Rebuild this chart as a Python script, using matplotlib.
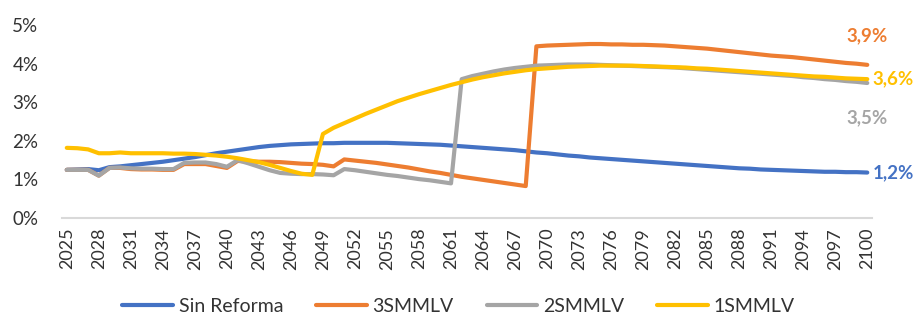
import matplotlib
matplotlib.use("Agg")
import matplotlib.pyplot as plt
from matplotlib.ticker import FuncFormatter

years = list(range(2025, 2101))

sin_reforma = [
    1.25, 1.26, 1.27, 1.24, 1.32, 1.34, 1.37, 1.40, 1.43, 1.46,
    1.50, 1.54, 1.58, 1.63, 1.68, 1.72, 1.76, 1.80, 1.84, 1.87,
    1.89, 1.91, 1.92, 1.93, 1.94, 1.94, 1.95, 1.95, 1.95, 1.95,
    1.95, 1.94, 1.93, 1.92, 1.91, 1.90, 1.88, 1.86, 1.84, 1.82,
    1.80, 1.78, 1.76, 1.73, 1.70, 1.68, 1.65, 1.62, 1.60, 1.57,
    1.55, 1.53, 1.51, 1.49, 1.47, 1.45, 1.43, 1.41, 1.39, 1.37,
    1.35, 1.33, 1.31, 1.29, 1.28, 1.26, 1.25, 1.24, 1.23, 1.22,
    1.21, 1.20, 1.20, 1.19, 1.19, 1.18,
]

smmlv3 = [
    1.25, 1.25, 1.25, 1.10, 1.30, 1.30, 1.27, 1.26, 1.26, 1.25,
    1.25, 1.40, 1.40, 1.40, 1.35, 1.30, 1.48, 1.47, 1.46, 1.46,
    1.45, 1.43, 1.41, 1.40, 1.38, 1.34, 1.52, 1.49, 1.46, 1.43,
    1.39, 1.35, 1.31, 1.26, 1.21, 1.17, 1.12, 1.07, 1.03, 0.99,
    0.95, 0.91, 0.87, 0.83, 4.45, 4.47, 4.48, 4.49, 4.50, 4.51,
    4.51, 4.50, 4.50, 4.49, 4.49, 4.48, 4.47, 4.45, 4.43, 4.41,
    4.39, 4.36, 4.33, 4.30, 4.27, 4.24, 4.21, 4.19, 4.17, 4.14,
    4.11, 4.08, 4.05, 4.02, 4.00, 3.97,
]

smmlv2 = [
    1.25, 1.25, 1.25, 1.10, 1.30, 1.31, 1.29, 1.28, 1.28, 1.27,
    1.27, 1.43, 1.44, 1.44, 1.40, 1.33, 1.50, 1.42, 1.33, 1.24,
    1.17, 1.15, 1.14, 1.14, 1.13, 1.11, 1.27, 1.24, 1.20, 1.16,
    1.12, 1.09, 1.05, 1.01, 0.98, 0.94, 0.90, 3.60, 3.68, 3.74,
    3.80, 3.85, 3.89, 3.92, 3.95, 3.96, 3.97, 3.98, 3.98, 3.98,
    3.97, 3.96, 3.95, 3.94, 3.93, 3.92, 3.91, 3.90, 3.88, 3.86,
    3.84, 3.82, 3.80, 3.78, 3.76, 3.74, 3.72, 3.70, 3.68, 3.65,
    3.63, 3.60, 3.58, 3.55, 3.53, 3.50,
]

smmlv1 = [
    1.82, 1.81, 1.78, 1.68, 1.68, 1.70, 1.68, 1.68, 1.68, 1.68,
    1.67, 1.67, 1.66, 1.64, 1.62, 1.59, 1.55, 1.50, 1.45, 1.38,
    1.30, 1.22, 1.15, 1.12, 2.18, 2.34, 2.46, 2.58, 2.70, 2.81,
    2.92, 3.03, 3.12, 3.21, 3.29, 3.37, 3.45, 3.52, 3.59, 3.65,
    3.70, 3.75, 3.79, 3.83, 3.86, 3.88, 3.90, 3.92, 3.93, 3.94,
    3.95, 3.95, 3.95, 3.95, 3.94, 3.93, 3.92, 3.91, 3.90, 3.88,
    3.87, 3.85, 3.83, 3.81, 3.79, 3.77, 3.75, 3.73, 3.71, 3.69,
    3.67, 3.66, 3.64, 3.62, 3.61, 3.60,
]

series_names = ["Sin Reforma", "3SMMLV", "2SMMLV", "1SMMLV"]
series_values = [sin_reforma, smmlv3, smmlv2, smmlv1]
colors = ["#4472C4", "#ED7D31", "#A5A5A5", "#FFC000"]
end_labels = ["1,2%", "3,9%", "3,5%", "3,6%"]
y_ticks = [0, 1, 2, 3, 4, 5]
x_tick_years = list(range(2025, 2101, 3))

plt.rcParams['font.family'] = ['Lato', 'DejaVu Sans']

fig = plt.figure(figsize=(9.17, 3.26), dpi=100)
ax = fig.add_axes([0.0676, 0.331, 0.8834, 0.592])

lines = []
for name, vals, c in zip(series_names, series_values, colors):
    ln, = ax.plot(years, vals, color=c, lw=3.0, label=name,
                  solid_joinstyle='round', solid_capstyle='round')
    lines.append(ln)

ax.set_xlim(2024.55, 2100.45)
ax.set_ylim(0, 5)
ax.set_yticks(y_ticks)
ax.yaxis.set_major_formatter(FuncFormatter(lambda v, p: f"{int(v)}%"))
ax.set_xticks(x_tick_years)
ax.set_xticklabels([str(y) for y in x_tick_years], rotation=90)
ax.tick_params(axis='both', length=0, colors='#333333', labelsize=13.5)
ax.tick_params(axis='y', pad=17)
ax.tick_params(axis='x', pad=7, labelsize=13)
for s in ['top', 'right', 'left']:
    ax.spines[s].set_visible(False)
ax.spines['bottom'].set_color('#D9D9D9')
ax.spines['bottom'].set_linewidth(1.5)

# end-of-series data labels
offsets = {
    "Sin Reforma": ((4, 0), 'left', 'center'),
    "3SMMLV": ((0, 21), 'center', 'center'),
    "2SMMLV": ((0, -25), 'center', 'center'),
    "1SMMLV": ((4, 0), 'left', 'center'),
}
for name, vals, c, lab in zip(series_names, series_values, colors, end_labels):
    off, ha, va = offsets[name]
    ax.annotate(lab, xy=(years[-1], vals[-1]), xytext=off,
                textcoords='offset points', ha=ha, va=va,
                color=c, fontsize=13.5, fontweight='bold', annotation_clip=False)

fig.legend(lines, series_names, loc='lower center', ncol=4,
           bbox_to_anchor=(0.5, -0.02), frameon=False, fontsize=14,
           handlelength=2.6, handletextpad=0.3, columnspacing=1.7,
           labelcolor='#333333')

fig.savefig("out.png", dpi=100)
